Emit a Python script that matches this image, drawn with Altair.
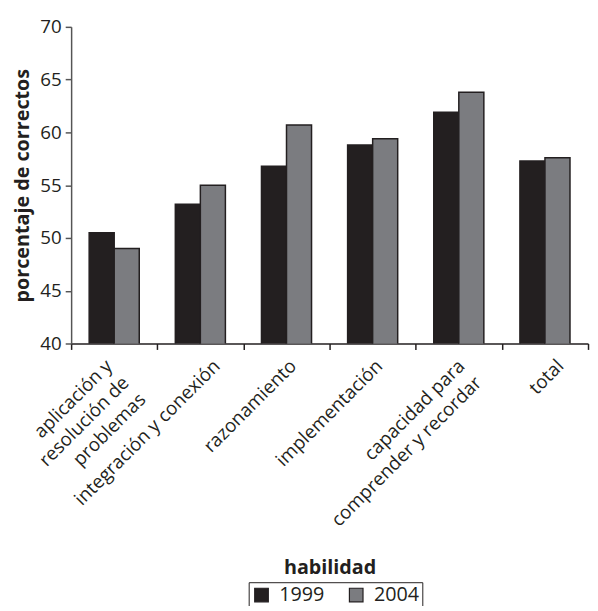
import altair as alt
import pandas as pd

label_lines = [
    ["aplicación y", "resolución de", "problemas"],
    ["integración y conexión"],
    ["razonamiento"],
    ["implementación"],
    ["capacidad para", "comprender y recordar"],
    ["total"],
]
categories = [" ".join(l) for l in label_lines]
years = ["1999", "2004"]
values_1999 = [50.5, 53.2, 56.8, 58.8, 61.9, 57.3]
values_2004 = [49.0, 55.0, 60.7, 59.4, 63.8, 57.6]

rows = []
for c, a, b in zip(categories, values_1999, values_2004):
    rows.append({"habilidad": c, "año": "1999", "pct": a})
    rows.append({"habilidad": c, "año": "2004", "pct": b})
df = pd.DataFrame(rows)

# label expression producing multi-line labels
expr = "datum.label"
for c, lines in zip(categories, label_lines):
    if len(lines) > 1:
        arr = "[" + ",".join("'" + s + "'" for s in lines) + "]"
        expr = f"datum.label == '{c}' ? {arr} : ({expr})"

# small per-label nudges along the axis, as in the hand-placed original
nudges = {categories[0]: -12, categories[1]: 10, categories[4]: -4, categories[5]: 9}
label_offset = {
    "condition": [{"test": f"datum.value == '{k}'", "value": v} for k, v in nudges.items()],
    "value": 0,
}

FONT = "Open Sans"
DARK = "#231f20"

chart = alt.Chart(df).mark_bar(stroke=DARK, strokeWidth=1.5, clip=True).encode(
    x=alt.X(
        "habilidad:N",
        sort=categories,
        scale=alt.Scale(paddingInner=0, paddingOuter=0),
        axis=alt.Axis(
            title="habilidad",
            labelAngle=-45,
            labelAlign="right",
            labelBaseline="top",
            labelExpr=expr,
            labelOffset=label_offset,
            labelPadding=7,
            labelLineHeight=24,
            labelLimit=400,
            tickBand="extent",
            tickSize=6,
            labelFontSize=19,
            labelFont=FONT,
            labelColor=DARK,
            titleFont=FONT,
            titleFontSize=20,
            titleFontWeight="bold",
            titleColor=DARK,
            titleY=227,
            titleBaseline="middle",
            domainColor=DARK,
            domainWidth=1.5,
            tickColor=DARK,
            tickWidth=1.5,
        ),
    ),
    xOffset=alt.XOffset("año:N", sort=years, scale=alt.Scale(paddingInner=0, paddingOuter=0.72)),
    y=alt.Y(
        "pct:Q",
        scale=alt.Scale(domain=[40, 70], nice=False, zero=False),
        axis=alt.Axis(
            title="porcentaje de correctos",
            values=[40, 45, 50, 55, 60, 65, 70],
            grid=False,
            tickSize=6,
            labelPadding=4,
            labelFontSize=19,
            labelFont=FONT,
            labelColor=DARK,
            titleFont=FONT,
            titleFontSize=20,
            titleFontWeight="bold",
            titleColor=DARK,
            titleX=-49,
            titleAlign="center",
            titleBaseline="middle",
            domainColor="#555555",
            domainWidth=1.5,
            tickColor="#555555",
            tickWidth=1.5,
        ),
    ),
    color=alt.Color(
        "año:N",
        sort=years,
        scale=alt.Scale(domain=years, range=[DARK, "#7b7c80"]),
        legend=alt.Legend(
            title=None,
            orient="none",
            legendX=180,
            legendY=563,
            direction="horizontal",
            symbolType="square",
            symbolSize=190,
            symbolStrokeColor=DARK,
            symbolStrokeWidth=1.2,
            labelFont=FONT,
            labelFontSize=20,
            labelColor=DARK,
            labelOffset=8,
            strokeColor=DARK,
            padding=3,
            columnPadding=22,
        ),
    ),
).properties(
    width=524,
    height=321,
    autosize=alt.AutoSizeParams(type="none"),
    padding={"left": 64, "top": 15, "right": 2, "bottom": 262},
).configure_view(stroke=None)

chart.save("out.html", embed_options={"renderer": "svg", "actions": False})
